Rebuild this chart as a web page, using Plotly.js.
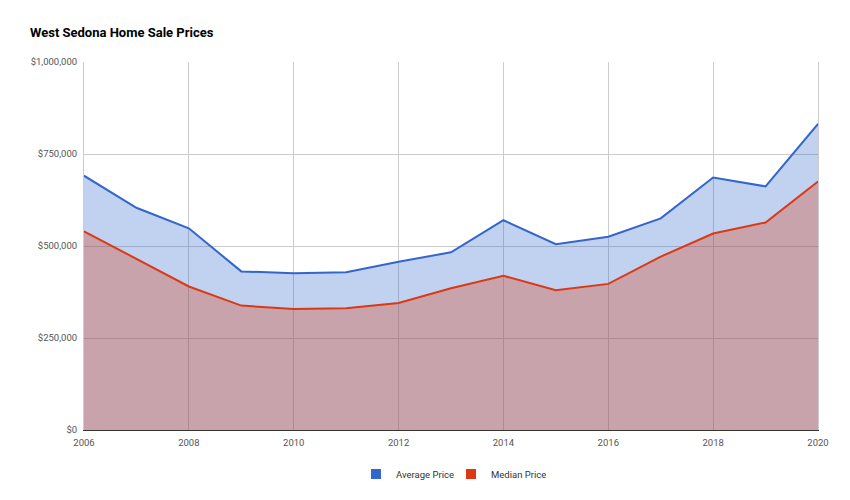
<!DOCTYPE html>
<html>
<head>
<meta charset="utf-8">
<script src="https://cdn.plot.ly/plotly-3.0.1.min.js"></script>
<style>html,body{margin:0;padding:0;background:#fff;}#chart{width:850px;height:500px;}</style>
</head>
<body>
<div id="chart"></div>
<script>
var years = [2006, 2007, 2008, 2009, 2010, 2011, 2012, 2013, 2014, 2015, 2016, 2017, 2018, 2019, 2020];
var averagePrice = [691000, 604000, 548000, 431000, 426000, 429000, 457000, 483000, 570000, 505000, 525000, 575000, 686000, 662000, 832000];
var medianPrice = [540000, 465000, 390000, 338000, 329000, 331000, 345000, 385000, 419000, 380000, 397000, 471000, 534000, 564000, 675000];
var seriesNames = ['Average Price', 'Median Price'];
var yTicks = [0, 250000, 500000, 750000, 1000000];
var yTickLabels = ['$0', '$250,000', '$500,000', '$750,000', '$1,000,000'];
var xTicks = [2006, 2008, 2010, 2012, 2014, 2016, 2018, 2020];

var blue = '#3366cc', red = '#dc3912';
var traces = [
  {x: years, y: averagePrice, type: 'scatter', mode: 'lines', name: seriesNames[0], fill: 'tozeroy',
   line: {color: blue, width: 2}, fillcolor: 'rgba(51,102,204,0.3)', showlegend: false, hoverinfo: 'x+y'},
  {x: years, y: medianPrice, type: 'scatter', mode: 'lines', name: seriesNames[1], fill: 'tozeroy',
   line: {color: red, width: 2}, fillcolor: 'rgba(220,57,18,0.3)', showlegend: false, hoverinfo: 'x+y'},
  {x: [null], y: [null], type: 'scatter', mode: 'markers', name: seriesNames[0],
   marker: {symbol: 'square', size: 10, color: blue}},
  {x: [null], y: [null], type: 'scatter', mode: 'markers', name: seriesNames[1],
   marker: {symbol: 'square', size: 10, color: red}}
];

var layout = {
  width: 850, height: 500,
  margin: {l: 84, r: 32, t: 62, b: 70},
  paper_bgcolor: '#fff', plot_bgcolor: '#fff',
  font: {family: 'Roboto, Arial, sans-serif', size: 9.5, color: '#555'},
  title: {text: '<b>West Sedona Home Sale Prices</b>', x: 30 / 850, xref: 'container', xanchor: 'left',
          y: 0.936, yanchor: 'middle', pad: {l: 0},
          font: {family: 'Roboto, Arial, sans-serif', size: 13, color: '#000'}},
  xaxis: {range: [2006, 2020], tickvals: xTicks, ticktext: xTicks.map(String),
          showgrid: true, gridcolor: '#cccccc', gridwidth: 1, zeroline: false,
          showline: true, linecolor: '#333333', linewidth: 1, ticks: '', ticklen: 0,
          ticklabelstandoff: 4,
          tickfont: {size: 9.5, color: '#555'}, fixedrange: true},
  yaxis: {range: [0, 1000000], tickvals: yTicks, ticktext: yTickLabels,
          showgrid: true, gridcolor: '#cccccc', gridwidth: 1, zeroline: false,
          showline: true, mirror: true, linecolor: '#cccccc', linewidth: 1, ticks: '',
          ticklabelstandoff: 4,
          tickfont: {size: 9.5, color: '#555'}, fixedrange: true},
  showlegend: true,
  legend: {orientation: 'h', x: 0.5, xanchor: 'center', y: -0.08, yanchor: 'top',
           itemwidth: 30, entrywidth: 50, entrywidthmode: 'pixels',
           font: {size: 9.5, color: '#333'}, itemclick: false, itemdoubleclick: false}
};

Plotly.newPlot('chart', traces, layout, {displayModeBar: false, staticPlot: true});
</script>
</body>
</html>
